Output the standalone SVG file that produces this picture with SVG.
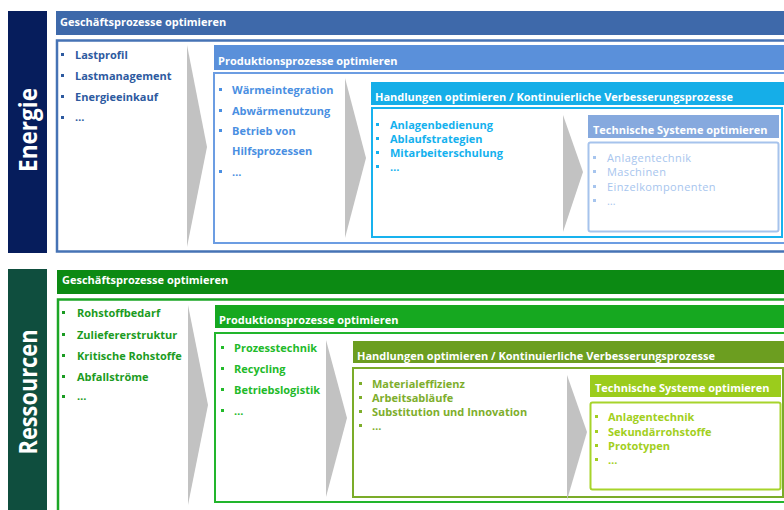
<svg xmlns="http://www.w3.org/2000/svg" width="784" height="510" viewBox="0 0 784 510">
  <style>
    text { font-family: "Open Sans", "Noto Sans", "Liberation Sans", sans-serif; }
    .hd { fill: #ffffff; font-size: 11px; font-weight: 700; }
    .side { fill: #ffffff; font-size: 25px; font-weight: 700; }
    .it { font-size: 11px; font-weight: 700; }
    .itn { font-size: 11px; font-weight: 400; letter-spacing: 0.4px; }
    .arrow { fill: #c2c2c2; }
    .box { fill: #ffffff; }
  </style>

  <rect width="784" height="510" fill="#ffffff"/>

  <!-- ===== Energie ===== -->
  <g id="energie-label">
    <rect x="8" y="11" width="39" height="242" fill="#061d5c"/>
    <text class="side" transform="translate(37,130) rotate(-90)" text-anchor="middle" textLength="84" lengthAdjust="spacingAndGlyphs">Energie</text>
  </g>

  <g id="energie-geschaeft">
    <rect x="56" y="11" width="730" height="24" fill="#3e69aa"/>
    <text class="hd" x="60" y="26">Geschäftsprozesse optimieren</text>
    <rect class="box" x="57" y="40.5" width="740" height="211" stroke="#4673b5" stroke-width="2.5"/>
    <g fill="#2d5a9f">
      <rect x="61" y="53" width="3" height="3"/><text class="it" x="75" y="59">Lastprofil</text>
      <rect x="61" y="74" width="3" height="3"/><text class="it" x="75" y="80">Lastmanagement</text>
      <rect x="61" y="95" width="3" height="3"/><text class="it" x="75" y="101">Energieeinkauf</text>
      <rect x="61" y="116" width="3" height="3"/><text class="it" x="75" y="121">…</text>
    </g>
  </g>

  <g id="energie-produktion">
    <rect x="214" y="45" width="572" height="25" fill="#5a90da"/>
    <text class="hd" x="218" y="65">Produktionsprozesse optimieren</text>
    <rect class="box" x="214" y="73" width="580" height="170" stroke="#6c9de2" stroke-width="2"/>
    <g fill="#4a8fe2">
      <rect x="219" y="88" width="3" height="3"/><text class="it" x="232" y="94">Wärmeintegration</text>
      <rect x="219" y="109" width="3" height="3"/><text class="it" x="232" y="115">Abwärmenutzung</text>
      <rect x="219" y="129" width="3" height="3"/><text class="it" x="232" y="135">Betrieb von</text>
      <text class="it" x="232" y="155">Hilfsprozessen</text>
      <rect x="219" y="170" width="3" height="3"/><text class="it" x="232" y="176">…</text>
    </g>
  </g>

  <g id="energie-handlungen">
    <rect x="371" y="82" width="415" height="23" fill="#15aee8"/>
    <text class="hd" x="375" y="101">Handlungen optimieren / Kontinuierliche Verbesserungsprozesse</text>
    <rect class="box" x="372" y="108" width="410" height="129" stroke="#18b2ee" stroke-width="2"/>
    <g fill="#14b1ee">
      <rect x="376" y="123" width="3" height="3"/><text class="it" x="390" y="129">Anlagenbedienung</text>
      <rect x="376" y="137" width="3" height="3"/><text class="it" x="390" y="143">Ablaufstrategien</text>
      <rect x="376" y="151" width="3" height="3"/><text class="it" x="390" y="157">Mitarbeiterschulung</text>
      <rect x="376" y="165" width="3" height="3"/><text class="it" x="390" y="171">…</text>
    </g>
  </g>

  <g id="energie-technik">
    <rect x="588" y="115" width="191" height="23" fill="#86a9de"/>
    <text class="hd" x="593" y="134">Technische Systeme optimieren</text>
    <rect class="box" x="588.5" y="142.5" width="190" height="89" rx="2" stroke="#a6c3ec" stroke-width="2"/>
    <g fill="#a7c5ee">
      <rect x="593" y="156" width="3" height="3"/><text class="itn" x="607" y="162">Anlagentechnik</text>
      <rect x="593" y="170" width="3" height="3"/><text class="itn" x="607" y="176">Maschinen</text>
      <rect x="593" y="185" width="3" height="3"/><text class="itn" x="607" y="191">Einzelkomponenten</text>
      <rect x="593" y="199" width="3" height="3"/><text class="itn" x="607" y="205">…</text>
    </g>
  </g>

  <!-- ===== Ressourcen ===== -->
  <g id="ressourcen-label">
    <rect x="8" y="269" width="39" height="245" fill="#0f4e3e"/>
    <text class="side" transform="translate(37,392) rotate(-90)" text-anchor="middle" textLength="125" lengthAdjust="spacingAndGlyphs">Ressourcen</text>
  </g>

  <g id="ressourcen-geschaeft">
    <rect x="57" y="270" width="729" height="24" fill="#0c8a13"/>
    <text class="hd" x="62" y="284">Geschäftsprozesse optimieren</text>
    <rect class="box" x="58" y="299.5" width="740" height="220" stroke="#1ca626" stroke-width="2.5"/>
    <g fill="#1b9b22">
      <rect x="62" y="311" width="3" height="3"/><text class="it" x="77" y="317">Rohstoffbedarf</text>
      <rect x="62" y="333" width="3" height="3"/><text class="it" x="77" y="339">Zuliefererstruktur</text>
      <rect x="62" y="354" width="3" height="3"/><text class="it" x="77" y="360">Kritische Rohstoffe</text>
      <rect x="62" y="375" width="3" height="3"/><text class="it" x="77" y="381">Abfallströme</text>
      <rect x="62" y="395" width="3" height="3"/><text class="it" x="77" y="400">…</text>
    </g>
  </g>

  <g id="ressourcen-produktion">
    <rect x="215" y="305" width="571" height="23" fill="#16a820"/>
    <text class="hd" x="219" y="324">Produktionsprozesse optimieren</text>
    <rect class="box" x="215" y="333" width="580" height="169" stroke="#22b52c" stroke-width="2"/>
    <g fill="#22ba2a">
      <rect x="221" y="346" width="3" height="3"/><text class="it" x="234" y="352">Prozesstechnik</text>
      <rect x="221" y="367" width="3" height="3"/><text class="it" x="234" y="373">Recycling</text>
      <rect x="221" y="388" width="3" height="3"/><text class="it" x="234" y="394">Betriebslogistik</text>
      <rect x="221" y="409" width="3" height="3"/><text class="it" x="234" y="415">…</text>
    </g>
  </g>

  <g id="ressourcen-handlungen">
    <rect x="353" y="341" width="433" height="22" fill="#6c9e20"/>
    <text class="hd" x="357" y="360">Handlungen optimieren / Kontinuierliche Verbesserungsprozesse</text>
    <rect class="box" x="353" y="368" width="430" height="129" stroke="#7bac29" stroke-width="2"/>
    <g fill="#7eae2c">
      <rect x="359" y="382" width="3" height="3"/><text class="it" x="372" y="388">Materialeffizienz</text>
      <rect x="359" y="396" width="3" height="3"/><text class="it" x="372" y="402">Arbeitsabläufe</text>
      <rect x="359" y="410" width="3" height="3"/><text class="it" x="372" y="416">Substitution und Innovation</text>
      <rect x="359" y="424" width="3" height="3"/><text class="it" x="372" y="430">…</text>
    </g>
  </g>

  <g id="ressourcen-technik">
    <rect x="590" y="375" width="191" height="22" fill="#9bcc1c"/>
    <text class="hd" x="595" y="392">Technische Systeme optimieren</text>
    <rect class="box" x="590.5" y="402.5" width="190" height="87" rx="2" stroke="#a7d42b" stroke-width="2"/>
    <g fill="#a2cf21">
      <rect x="595" y="415" width="3" height="3"/><text class="it" x="608" y="421">Anlagentechnik</text>
      <rect x="595" y="430" width="3" height="3"/><text class="it" x="608" y="436">Sekundärrohstoffe</text>
      <rect x="595" y="444" width="3" height="3"/><text class="it" x="608" y="450">Prototypen</text>
      <rect x="595" y="458" width="3" height="3"/><text class="it" x="608" y="464">…</text>
    </g>
  </g>

  <!-- chevron connectors between the stages -->
  <g id="connectors">
    <polygon class="arrow" points="187,45 207,147 187,247"/>
    <polygon class="arrow" points="345,78 366,158 345,238"/>
    <polygon class="arrow" points="563,115 583,172 563,232"/>
    <polygon class="arrow" points="188,305 208,405 188,505"/>
    <polygon class="arrow" points="326,340 347,418 326,497"/>
    <polygon class="arrow" points="567,375 587,432 567,500"/>
  </g>
</svg>
